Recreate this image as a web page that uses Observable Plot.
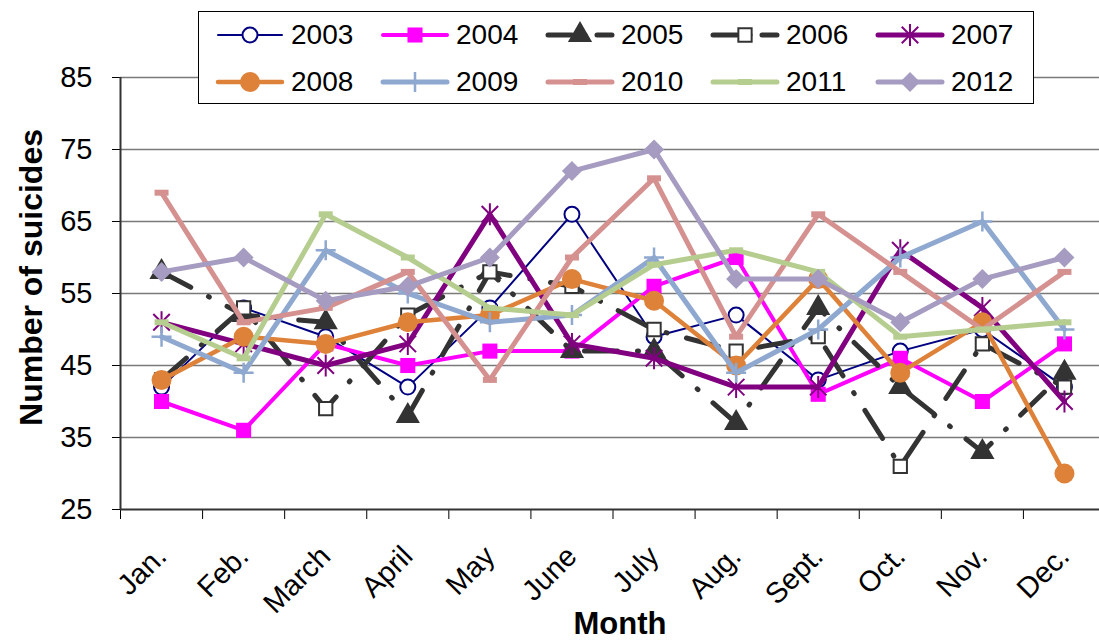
<!DOCTYPE html>
<html><head><meta charset="utf-8">
<script src="https://cdn.jsdelivr.net/npm/d3@7"></script>
<script src="https://cdn.jsdelivr.net/npm/@observablehq/plot@0.6"></script>
<style>
body{margin:0;background:#fff;font-family:"Liberation Sans",Arial,sans-serif;}
#wrap{position:relative;width:1099px;height:643px;overflow:hidden;background:#fff}
#legend{position:absolute;left:198px;top:11px;width:836px;height:93px;border:1.5px solid #000;background:#fff;box-sizing:border-box}
.item{position:absolute;height:34px;display:flex;align-items:center;font-size:28px;color:#000;white-space:nowrap}
.item svg{margin-right:6px}
</style></head><body><div id="wrap"><div id="legend"></div></div>
<script>
const months = ["Jan.","Feb.","March","April","May","June","July","Aug.","Sept.","Oct.","Nov.","Dec."];
const years = ["2003","2004","2005","2006","2007","2008","2009","2010","2011","2012"];
const yTicks = [25,35,45,55,65,75,85];
const v2003 = [42,53,49,42,53,66,49,52,43,47,50,42];
const v2004 = [40,36,48,45,47,47,56,60,41,46,40,48];
const v2005 = [58,52,51,38,58,47,47,37,53,42,33,44];
const v2006 = [43,53,39,52,58,56,50,47,49,31,48,42];
const v2007 = [51,48,45,48,66,48,46,42,42,61,53,40];
const v2008 = [43,49,48,51,52,57,54,45,57,44,51,30];
const v2009 = [49,44,61,55,51,52,60,44,50,60,65,50];
const v2010 = [69,51,53,58,43,60,71,49,66,58,50,58];
const v2011 = [51,46,66,60,53,52,59,61,58,49,50,51];
const v2012 = [58,60,54,56,60,72,75,57,57,51,57,60];
const series = [v2003,v2004,v2005,v2006,v2007,v2008,v2009,v2010,v2011,v2012];

// custom marker shapes
const symAsterisk = {draw(c,s){const r=Math.sqrt(s/Math.PI);const d=r*0.75;c.moveTo(0,-r);c.lineTo(0,r);c.moveTo(-d,-d);c.lineTo(d,d);c.moveTo(-d,d);c.lineTo(d,-d);}};
const symDash = {draw(c,s){const r=Math.sqrt(s/Math.PI);c.moveTo(-r,0);c.lineTo(r,0);}};
const symRhombus = {draw(c,s){const r=Math.sqrt(s/Math.PI);c.moveTo(0,-r);c.lineTo(r,0);c.lineTo(0,r);c.lineTo(-r,0);c.closePath();}};
const symPlus = {draw(c,s){const r=Math.sqrt(s/Math.PI);c.moveTo(0,-r);c.lineTo(0,r);c.moveTo(-r,0);c.lineTo(r,0);}};

const dashDot = "33 20 1 20";
const styles = {
  "2003": {color:"#000080", w:2, sym:d3.symbolCircle, r:7.5, fill:"#fff", ms:"#000080", msw:2},
  "2004": {color:"#FF00FF", w:4, sym:d3.symbolSquare, r:8.5, fill:"#FF00FF", ms:"none", msw:0},
  "2005": {color:"#333333", w:5, dash:dashDot, sym:d3.symbolTriangle, r:9, fill:"#333333", ms:"none", msw:0},
  "2006": {color:"#333333", w:5, dash:dashDot, sym:d3.symbolSquare, r:7.5, fill:"#fff", ms:"#333333", msw:2},
  "2007": {color:"#800080", w:5, sym:symAsterisk, r:11, fill:"none", ms:"#800080", msw:2},
  "2008": {color:"#DE8139", w:4.5, sym:d3.symbolCircle, r:10, fill:"#DE8139", ms:"none", msw:0},
  "2009": {color:"#8EA8D0", w:5, sym:symPlus, r:10, fill:"none", ms:"#8EA8D0", msw:2.5},
  "2010": {color:"#D49190", w:5, sym:symDash, r:7, fill:"none", ms:"#D49190", msw:6},
  "2011": {color:"#B6CD90", w:5, sym:symDash, r:7, fill:"none", ms:"#B6CD90", msw:6},
  "2012": {color:"#A69BC0", w:5, sym:symRhombus, r:10, fill:"#A69BC0", ms:"none", msw:0}
};

const marks = [
  Plot.ruleY(yTicks.filter(t => t > 25), {stroke:"#7a7a7a", strokeWidth:1.5}),
  Plot.ruleY([25], {stroke:"#333", strokeWidth:2}),
  Plot.ruleX([-0.5], {stroke:"#333", strokeWidth:2}),
  Plot.text(months, {x:(d,i)=>i, y:()=>25, dy:42, rotate:-45, textAnchor:"end", fontSize:29}),
  Plot.text(["Number of suicides"], {frameAnchor:"left", textAnchor:"middle", dx:-89, dy:-16, rotate:-90, fontWeight:"bold", fontSize:32}),
  Plot.text(["Month"], {frameAnchor:"bottom", lineAnchor:"middle", textAnchor:"middle", dx:10, dy:115, fontWeight:"bold", fontSize:31})
];
years.forEach((y,k) => {
  const st = styles[y];
  const rows = series[k].map((v,i) => ({m:i, v}));
  marks.push(Plot.line(rows, {x:"m", y:"v", stroke:st.color, strokeWidth:st.w, strokeDasharray:st.dash, strokeLinecap:"round", strokeLinejoin:"round"}));
  marks.push(Plot.dot(rows, {x:"m", y:"v", symbol:st.sym, r:st.r, fill:st.fill, stroke:st.ms, strokeWidth:st.msw}));
});

const chart = Plot.plot({
  width:1099, height:643,
  marginLeft:120, marginTop:77, marginBottom:134, marginRight:0,
  style:{fontFamily:"'Liberation Sans', Arial, sans-serif", fontSize:"29px", color:"#000", background:"#fff", overflow:"visible"},
  x:{type:"linear", domain:[-0.5,11.5], range:[120,1105], ticks:d3.range(-0.5,12,1), tickFormat:()=>"", tickSize:10, label:null},
  y:{domain:[25,85], ticks:yTicks, tickSize:8, tickPadding:20, label:null},
  marks
});
document.getElementById("wrap").prepend(chart);

// legend
const legend = document.getElementById("legend");
years.forEach((y,k) => {
  const st = styles[y];
  const col = k % 5, row = Math.floor(k/5);
  const div = document.createElement("div");
  div.className = "item";
  div.style.left = (16 + col*165) + "px";
  div.style.top = (6 + row*47) + "px";
  const svg = d3.create("svg").attr("width",70).attr("height",30);
  svg.append("line").attr("x1",3).attr("x2",67).attr("y1",15).attr("y2",15)
    .attr("stroke",st.color).attr("stroke-width",st.w).attr("stroke-linecap","round")
    .attr("stroke-dasharray", st.dash ? "24 12 1 12" : null);
  svg.append("path").attr("transform","translate(35,15)")
    .attr("d", d3.symbol(st.sym, Math.PI*st.r*st.r)())
    .attr("fill", st.fill).attr("stroke", st.ms).attr("stroke-width", st.msw);
  div.appendChild(svg.node());
  const t = document.createElement("span");
  t.textContent = y;
  div.appendChild(t);
  legend.appendChild(div);
});
</script>
</body></html>
